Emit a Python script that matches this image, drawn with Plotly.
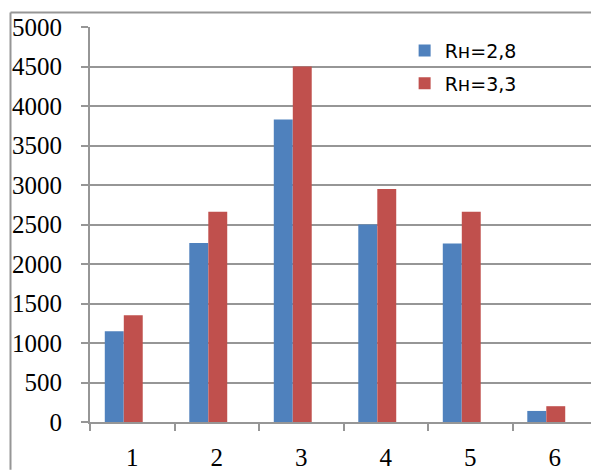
import plotly.graph_objects as go

# Categories on the x axis and the two series
categories = ["1", "2", "3", "4", "5", "6"]
series_names = ["Rн=2,8", "Rн=3,3"]
values_28 = [1150, 2265, 3830, 2500, 2260, 140]
values_33 = [1350, 2660, 4500, 2950, 2660, 200]
y_ticks = [0, 500, 1000, 1500, 2000, 2500, 3000, 3500, 4000, 4500, 5000]

BLUE = "#4F81BD"
RED = "#C0504D"
GRAY = "#969696"

W, H = 591, 471
ML, MR, MT, MB = 90, 0, 27, 46

fig = go.Figure()
fig.add_trace(go.Bar(
    x=categories, y=values_28, name=series_names[0],
    marker=dict(color=BLUE, line=dict(width=0)),
    width=0.224, offset=-0.325, legendgroup="a",
))
fig.add_trace(go.Bar(
    x=categories, y=values_33, name=series_names[1],
    marker=dict(color=RED, line=dict(width=0)),
    width=0.224, offset=-0.1, legendgroup="b",
))

# category width in px -> right end of the visible range
cat_px = 84.5
x_end = -0.5 + (W - ML - MR) / cat_px

fig.update_layout(
    width=W, height=H,
    margin=dict(l=ML, r=MR, t=MT, b=MB, pad=0),
    paper_bgcolor="white", plot_bgcolor="white",
    barmode="overlay",
    showlegend=True,
    legend=dict(
        x=0.628, y=0.988, xanchor="left", yanchor="top",
        font=dict(family="DejaVu Sans", size=19, color="#000000"),
        bgcolor="rgba(0,0,0,0)", tracegroupgap=5,
        traceorder="grouped",
    ),
    xaxis=dict(
        type="category", range=[-0.5, x_end],
        showgrid=False, zeroline=False,
        showline=True, linecolor=GRAY, linewidth=2,
        ticks="outside", tickson="boundaries", ticklen=7, tickwidth=2, tickcolor=GRAY,
        tickfont=dict(family="Liberation Serif", size=25, color="#000000"),
        ticklabelstandoff=12,
    ),
    yaxis=dict(
        range=[0, 5000], tickvals=y_ticks,
        showgrid=True, gridcolor=GRAY, gridwidth=2,
        zeroline=False,
        showline=True, linecolor=GRAY, linewidth=2,
        ticks="outside", ticklen=7, tickwidth=2, tickcolor=GRAY,
        tickfont=dict(family="Liberation Serif", size=25, color="#000000"),
        ticklabelstandoff=14,
    ),
)

# outer frame: left and top edges
plot_w = W - ML - MR
plot_h = H - MT - MB
left_x = (10.5 - ML) / plot_w
top_y = 1 + (MT - 12.5) / plot_h
bottom_y = -(MB + 2) / plot_h
fig.add_shape(type="line", xref="paper", yref="paper",
              x0=left_x, x1=left_x, y0=bottom_y, y1=top_y,
              line=dict(color=GRAY, width=2))
fig.add_shape(type="line", xref="paper", yref="paper",
              x0=left_x, x1=1.02, y0=top_y, y1=top_y,
              line=dict(color=GRAY, width=2))

fig.write_html("out.html")
